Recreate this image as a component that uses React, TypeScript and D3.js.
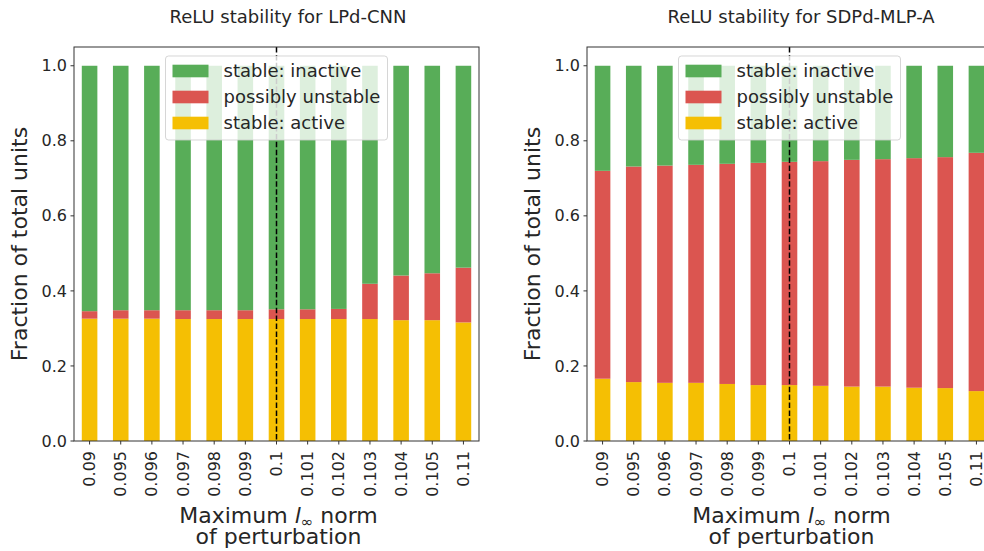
import React from "react";
import * as d3 from "d3";

const categories = ["0.09", "0.095", "0.096", "0.097", "0.098", "0.099", "0.1", "0.101", "0.102", "0.103", "0.104", "0.105", "0.11"];
const yTicks = [0, 0.2, 0.4, 0.6, 0.8, 1.0];

const cnnActive = [0.326, 0.326, 0.326, 0.325, 0.325, 0.325, 0.325, 0.325, 0.325, 0.325, 0.322, 0.322, 0.316];
const cnnUnstable = [0.020, 0.0225, 0.0225, 0.0235, 0.0235, 0.0235, 0.026, 0.026, 0.027, 0.094, 0.119, 0.125, 0.146];
const cnnInactive = [0.654, 0.6515, 0.6515, 0.6515, 0.6515, 0.6515, 0.649, 0.649, 0.648, 0.581, 0.559, 0.553, 0.538];

const mlpActive = [0.166, 0.157, 0.155, 0.155, 0.152, 0.149, 0.149, 0.147, 0.145, 0.145, 0.142, 0.141, 0.133];
const mlpUnstable = [0.554, 0.5745, 0.579, 0.581, 0.5867, 0.5923, 0.595, 0.5988, 0.6043, 0.6061, 0.6118, 0.6155, 0.635];
const mlpInactive = [0.28, 0.2685, 0.266, 0.264, 0.2613, 0.2587, 0.256, 0.2542, 0.2507, 0.2489, 0.2462, 0.2435, 0.232];

const seriesKeys = ["active", "unstable", "inactive"];
const seriesLabels: Record<string, string> = {
  inactive: "stable: inactive",
  unstable: "possibly unstable",
  active: "stable: active",
};
const colors: Record<string, string> = {
  inactive: "#58ad58",
  unstable: "#db5550",
  active: "#f5bf03",
};
const legendOrder = ["inactive", "unstable", "active"];
const threshold = "0.1";

const FONT = "DejaVu Sans, sans-serif";
const TOP = 47;
const BOTTOM = 441;
const AX_W = 405;

function Panel({ left, title, active, unstable, inactive }: any) {
  const x = d3.scaleBand().domain(categories).range([left, left + AX_W]).paddingInner(0.5).paddingOuter(0.25);
  const y = d3.scaleLinear().domain([0, 1.05]).range([BOTTOM, TOP]);
  const rows = categories.map((c, i) => ({ cat: c, active: active[i], unstable: unstable[i], inactive: inactive[i] }));
  const stacked = d3.stack<any>().keys(seriesKeys)(rows);
  const cx = left + AX_W / 2;
  const vx = (x(threshold) as number) + x.bandwidth() / 2;
  const legW = 222;
  const legX = cx - legW / 2;
  const legY = 56;
  return (
    <g>
      <text x={cx + 11.5} y={23} fontSize={18} textAnchor="middle" fill="#262626" fontFamily={FONT}>{title}</text>
      {stacked.map((s) => (
        <g key={s.key}>
          {s.map((d, i) => (
            <rect key={i} x={x(categories[i])} width={x.bandwidth()} y={y(d[1])} height={y(d[0]) - y(d[1])} fill={colors[s.key]} />
          ))}
        </g>
      ))}
      <line x1={vx} x2={vx} y1={TOP} y2={BOTTOM} stroke="#000" strokeWidth={1.5} strokeDasharray="5.5,2.4" />
      {/* frame */}
      <rect x={left} y={TOP} width={AX_W} height={BOTTOM - TOP} fill="none" stroke="#333" strokeWidth={1} />
      {/* y ticks */}
      {yTicks.map((t) => (
        <g key={t}>
          <line x1={left - 3.5} x2={left} y1={y(t)} y2={y(t)} stroke="#333" />
          <text x={left - 7} y={y(t)} dy="0.35em" fontSize={16} textAnchor="end" fill="#262626" fontFamily={FONT}>{t.toFixed(1)}</text>
        </g>
      ))}
      {/* x ticks */}
      {categories.map((c) => {
        const tx = (x(c) as number) + x.bandwidth() / 2;
        return (
          <g key={c}>
            <line x1={tx} x2={tx} y1={BOTTOM} y2={BOTTOM + 3.5} stroke="#333" />
            <text transform={`translate(${tx},${BOTTOM + 10}) rotate(-90)`} dy="0.35em" fontSize={16} textAnchor="end" fill="#262626" fontFamily={FONT}>{c}</text>
          </g>
        );
      })}
      <text transform={`translate(${left - 47},${(TOP + BOTTOM) / 2}) rotate(-90)`} fontSize={22} textAnchor="middle" fill="#262626" fontFamily={FONT}>Fraction of total units</text>
      <text x={cx + 2} y={523} fontSize={22} textAnchor="middle" fill="#262626" fontFamily={FONT}>
        Maximum <tspan fontStyle="italic">l</tspan><tspan fontSize={15} dy={4}>∞</tspan><tspan dy={-4}> norm</tspan>
      </text>
      <text x={cx + 2} y={544} fontSize={22} textAnchor="middle" fill="#262626" fontFamily={FONT}>of perturbation</text>
      {/* legend */}
      <rect x={legX} y={legY} width={legW} height={84} rx={3} fill="#fff" fillOpacity={0.8} stroke="#ccc" strokeOpacity={0.8} />
      {legendOrder.map((k, i) => {
        const cy = legY + 15 + i * 26;
        return (
          <g key={k}>
            <rect x={legX + 7} y={cy - 6.3} width={36} height={12.6} fill={colors[k]} />
            <text x={legX + 58} y={cy} dy="0.35em" fontSize={18} fill="#262626" fontFamily={FONT}>{seriesLabels[k]}</text>
          </g>
        );
      })}
    </g>
  );
}

export default function App() {
  return (
    <svg width={984} height={551} style={{ position: "absolute", left: 0, top: 0, background: "#fff" }}>
      <rect width={984} height={551} fill="#fff" />
      <Panel left={74} title="ReLU stability for LPd-CNN" active={cnnActive} unstable={cnnUnstable} inactive={cnnInactive} />
      <Panel left={587} title="ReLU stability for SDPd-MLP-A" active={mlpActive} unstable={mlpUnstable} inactive={mlpInactive} />
    </svg>
  );
}
